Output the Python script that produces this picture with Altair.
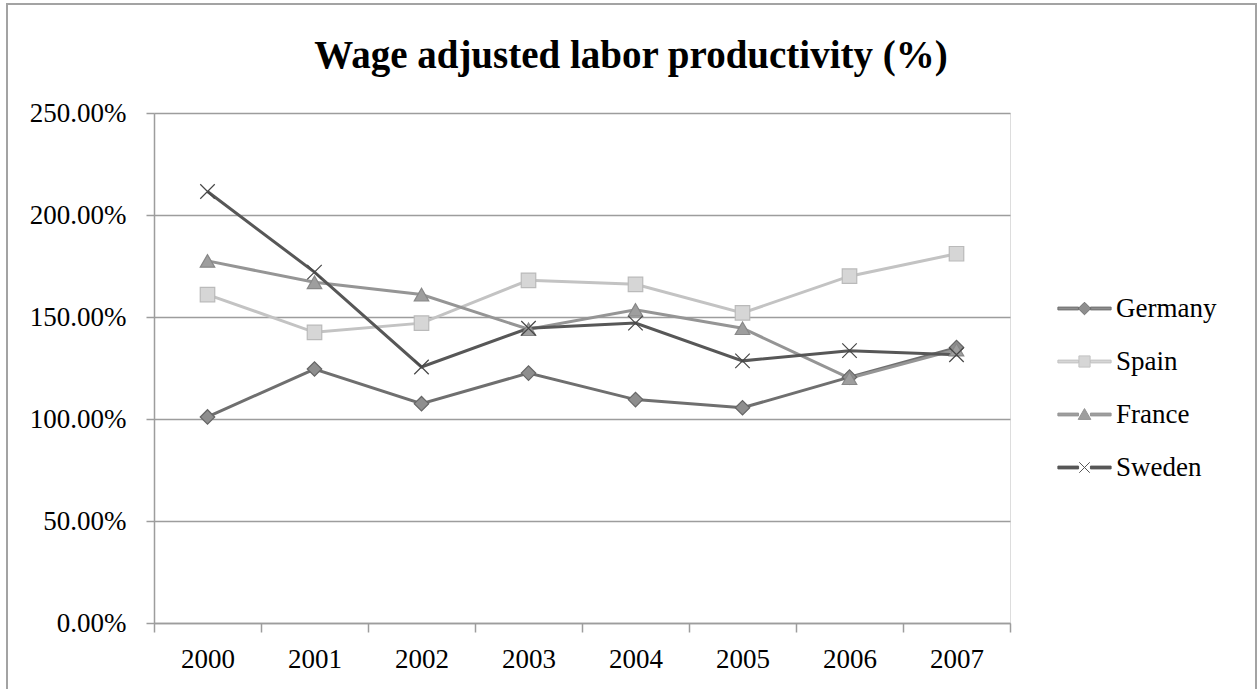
import altair as alt
import pandas as pd

# Wage adjusted labor productivity by country, in percent
years = ["2000", "2001", "2002", "2003", "2004", "2005", "2006", "2007"]
countries = ["Germany", "Spain", "France", "Sweden"]
germany = [101.0, 124.5, 107.5, 122.5, 109.5, 105.5, 120.5, 135.0]
spain = [161.0, 142.5, 147.0, 168.0, 166.0, 152.0, 170.0, 181.0]
france = [177.5, 167.0, 161.0, 144.0, 153.5, 144.5, 120.0, 134.0]
sweden = [211.5, 172.0, 125.5, 144.5, 147.0, 128.5, 133.5, 131.5]
y_ticks = [0, 50, 100, 150, 200, 250]

series = {"Germany": germany, "Spain": spain, "France": france, "Sweden": sweden}
rows = []
for name in countries:
    for yr, v in zip(years, series[name]):
        rows.append({"year": yr, "country": name, "value": v})
df = pd.DataFrame(rows)

# styling per series
line_colors = ["#6f6f6f", "#c3c3c3", "#959595", "#575757"]
marker_fill = ["#8e8e8e", "#d6d6d6", "#9e9e9e", "#575757"]
marker_stroke = ["#666666", "#bababa", "#888888", "#474747"]
marker_shapes = ["diamond", "square", "triangle-up", "M-1,-1L1,1M-1,1L1,-1"]
marker_widths = [1.2, 1.2, 1.2, 2.0]

# legend glyphs: a short line segment with the series marker in the middle
seg = "M-3.8,-0.2H-0.85V0.2H-3.8ZM0.85,-0.2H3.8V0.2H0.85Z"
legend_shapes = [
    seg + "M0,-0.9L0.9,0L0,0.9L-0.9,0Z",
    seg + "M-0.8,-0.8H0.8V0.8H-0.8Z",
    seg + "M0,-0.85L0.9,0.7H-0.9Z",
    seg + "M-0.75,-0.75L0.75,0.75M-0.75,0.75L0.75,-0.75",
]

GRAY = "#9d9d9d"
FONT = "Liberation Serif"

x_enc = alt.X(
    "year:N",
    sort=years,
    scale=alt.Scale(type="band", paddingInner=0, paddingOuter=0),
    axis=alt.Axis(
        title=None,
        labelAngle=0,
        tickBand="extent",
        tickSize=9,
        tickColor=GRAY,
        tickWidth=1.5,
        domainColor=GRAY,
        domainWidth=1.5,
        labelFont=FONT,
        labelFontSize=27,
        labelColor="black",
        labelPadding=14,
        grid=False,
    ),
)
y_enc = alt.Y(
    "value:Q",
    scale=alt.Scale(domain=[0, 250], nice=False, zero=True),
    axis=alt.Axis(
        title=None,
        values=y_ticks,
        labelExpr="format(datum.value, '.2f') + '%'",
        tickSize=8,
        tickColor=GRAY,
        tickWidth=1.5,
        domainColor=GRAY,
        domainWidth=1.5,
        gridColor=GRAY,
        gridWidth=1.5,
        labelFont=FONT,
        labelFontSize=27,
        labelColor="black",
        labelPadding=20,
    ),
)

base = alt.Chart(df)

lines = base.mark_line(strokeWidth=3).encode(
    x=x_enc,
    y=y_enc,
    color=alt.Color(
        "country:N",
        scale=alt.Scale(domain=countries, range=line_colors),
        legend=None,
    ),
    order=alt.value(0),
)

markers = base.mark_point(filled=True, size=210, opacity=1).encode(
    x=alt.X("year:N", sort=years),
    y="value:Q",
    shape=alt.Shape("country:N", scale=alt.Scale(domain=countries, range=marker_shapes), legend=None),
    fill=alt.Fill("country:N", scale=alt.Scale(domain=countries, range=marker_fill), legend=None),
    stroke=alt.Stroke("country:N", scale=alt.Scale(domain=countries, range=marker_stroke), legend=None),
    strokeWidth=alt.StrokeWidth("country:N", scale=alt.Scale(domain=countries, range=marker_widths), legend=None),
)

legend_spec = alt.Legend(
    title=None,
    orient="none",
    legendX=917,
    legendY=182,
    padding=0,
    symbolSize=196,
    symbolStrokeWidth=1,
    labelFont=FONT,
    labelFontSize=27,
    labelColor="black",
    labelOffset=18,
    rowPadding=25,
    labelLimit=300,
)

legend_layer = base.mark_point(filled=True, size=196, strokeWidth=1, opacity=1).encode(
    shape=alt.Shape("country:N", scale=alt.Scale(domain=countries, range=legend_shapes), legend=legend_spec),
    fill=alt.Fill("country:N", scale=alt.Scale(domain=countries, range=marker_fill), legend=legend_spec),
    stroke=alt.Stroke("country:N", scale=alt.Scale(domain=countries, range=line_colors), legend=legend_spec),
).transform_filter("false")

frame = alt.Chart(alt.Data(values=[{"f": 1}])).mark_rect(
    filled=False, stroke="#a3a3a3", strokeWidth=2
).encode(
    x=alt.value(-147), x2=alt.value(1102), y=alt.value(-109), y2=alt.value(600)
)

chart = (
    alt.layer(frame, lines, markers, legend_layer)
    .resolve_scale(shape="independent", fill="independent", stroke="independent")
    .properties(
        width=856,
        height=510,
        padding={"left": 154, "top": 113, "right": 249, "bottom": 66},
        autosize=alt.AutoSizeParams(type="none"),
        title=alt.TitleParams(
            "Wage adjusted labor productivity (%)",
            font=FONT,
            fontSize=39,
            fontWeight="bold",
            color="black",
            anchor="middle",
            dx=49,
            offset=-73,
        ),
    )
    .configure_view(stroke=None)
    .configure(background="white")
)

chart.save("out.html", embed_options={"renderer": "svg", "actions": False})
